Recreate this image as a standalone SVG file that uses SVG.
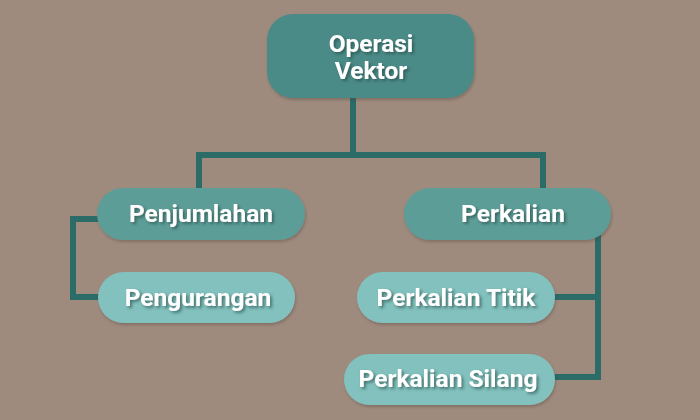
<svg xmlns="http://www.w3.org/2000/svg" width="700" height="420" viewBox="0 0 700 420">
<defs>
<filter id="ts" x="-20%" y="-30%" width="140%" height="170%">
<feDropShadow dx="2" dy="2" stdDeviation="1.5" flood-color="#1d3f3d" flood-opacity="0.6"/>
</filter>
<filter id="bs" x="-10%" y="-20%" width="120%" height="150%">
<feDropShadow dx="1" dy="2" stdDeviation="1.5" flood-color="#4a3a32" flood-opacity="0.35"/>
</filter>
</defs>
<style>
.t{font-family:Roboto,"Liberation Sans",sans-serif;font-weight:bold;font-size:24.5px;fill:#ffffff;text-anchor:middle;filter:url(#ts)}
.c{fill:none;stroke:#2b6b68;stroke-width:6}
.n0{fill:#4b8b87;filter:url(#bs)}
.n1{fill:#5d9d98;filter:url(#bs)}
.n2{fill:#82c1bd;filter:url(#bs)}
</style>
<rect width="700" height="420" fill="#9f8b7e"/>
<g id="connectors">
<path class="c" d="M353 98 V155 M199 155 H543 M199 152 V190 M543 152 V190"/>
<path class="c" d="M100 219 H73 V297 H102"/>
<path class="c" d="M598 232 V377 H552 M552 297 H598"/>
</g>
<g id="operasi-vektor">
<rect class="n0" x="267" y="14" width="207" height="84" rx="26"/>
<text class="t" x="371" y="52" font-size="24px">Operasi</text>
<text class="t" x="371" y="79" font-size="24px">Vektor</text>
</g>
<g id="penjumlahan">
<rect class="n1" x="97" y="188" width="208" height="52" rx="26"/>
<text class="t" x="201" y="222">Penjumlahan</text>
</g>
<g id="perkalian">
<rect class="n1" x="404" y="188" width="207" height="52" rx="26"/>
<text class="t" x="513" y="222">Perkalian</text>
</g>
<g id="pengurangan">
<rect class="n2" x="98" y="272" width="197" height="51" rx="25.5"/>
<text class="t" x="198" y="306">Pengurangan</text>
</g>
<g id="perkalian-titik">
<rect class="n2" x="357" y="272" width="198" height="51" rx="25.5"/>
<text class="t" x="456" y="306">Perkalian Titik</text>
</g>
<g id="perkalian-silang">
<rect class="n2" x="344" y="354" width="211" height="51" rx="25.5"/>
<text class="t" x="448" y="387">Perkalian Silang</text>
</g>
</svg>
